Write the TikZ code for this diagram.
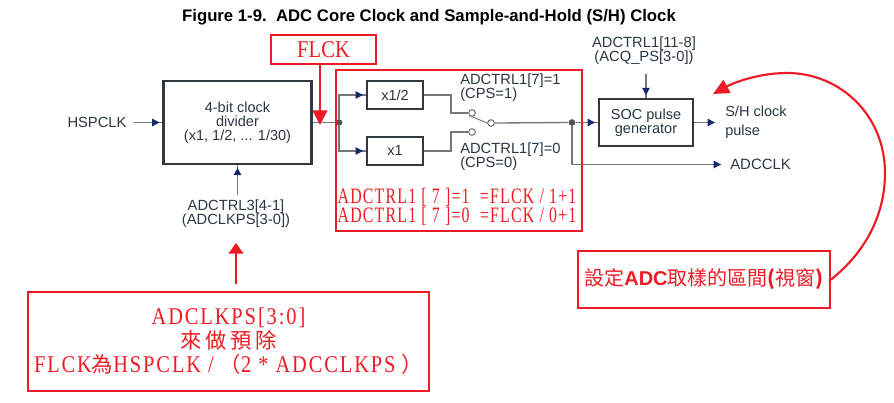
\documentclass[tikz,border=0pt]{standalone}
\usepackage{fontspec}
\setmainfont{Liberation Sans}
\newfontfamily\cjk{Noto Sans CJK TC}
\newfontfamily\rs[FakeStretch=.85,LetterSpace=8]{Liberation Serif}
\newfontfamily\rf[FakeStretch=.85,LetterSpace=1]{Liberation Serif}
\newfontfamily\rsb[FakeStretch=.72,LetterSpace=5.6]{Liberation Serif}
\usetikzlibrary{arrows.meta,decorations.markings}
\definecolor{inkc}{HTML}{2B3744}
\definecolor{edgec}{HTML}{33383F}
\definecolor{wirec}{HTML}{777777}
\definecolor{tipc}{HTML}{14286E}
\definecolor{redc}{HTML}{ED1C24}
\tikzset{
 lab/.style={inner sep=0pt,text=inkc,font=\fontsize{11.05}{10.5}\selectfont,align=center},
 blockbox/.style={draw=edgec,line width=1.7pt,fill=white,inner sep=0pt,text=inkc,font=\fontsize{10.9}{10.5}\selectfont,align=center},
 wire/.style={draw=wirec,line width=1pt},
 wirearrow/.style={wire,decoration={markings,mark=at position -#1 with {\fill[tipc] (-5.4pt,-2.9pt) -- (0,0) -- (-5.4pt,2.9pt) -- cycle;}},postaction={decorate}},
 wirearrow/.default=2.2pt,
 dotnode/.style={circle,fill=wirec!70!black,inner sep=0pt,minimum size=5pt},
 contact/.style={circle,draw=wirec!70!black,fill=white,line width=.6pt,inner sep=0pt,minimum size=5pt},
 redbox/.style={draw=redc,line width=1.6pt,inner sep=0pt,text=redc,align=center},
 redarrow/.style={draw=redc,line width=1.6pt,-{Triangle[length=#1,width=11pt,color=redc]}},
 redarrow/.default=8pt
}
\begin{document}
\begin{tikzpicture}[x=.75pt,y=-.75pt]
\useasboundingbox[fill=white] (0,0) rectangle (894,403);
\node[inner sep=0pt,font=\fontsize{12.55}{14}\bfseries\selectfont,text=black] (title) at (429,17) {Figure 1-9.\ \ ADC Core Clock and Sample-and-Hold (S/H) Clock};
% blocks
\node[blockbox,minimum width=111pt,minimum height=62pt] (div) at (237.5,122.5) {4-bit clock\\divider\\(x1, 1/2, ... 1/30)};
\node[blockbox,minimum width=42pt,minimum height=21pt] (x12) at (395,95) {x1/2};
\node[blockbox,minimum width=42pt,minimum height=21pt] (x1) at (395,151) {x1};
\node[blockbox,minimum width=70.5pt,minimum height=35pt] (soc) at (646,122.5) {SOC pulse\\generator};
% labels
\node[lab] (hsp) at (97,122.5) {HSPCLK};
\node[lab] (adc3) at (236,214) {ADCTRL3[4-1]\\(ADCLKPS[3-0])};
\node[lab,anchor=west,align=left] (cps1) at (460,88) {ADCTRL1[7]=1\\(CPS=1)};
\node[lab,anchor=west,align=left] (cps0) at (460,157) {ADCTRL1[7]=0\\(CPS=0)};
\node[lab] (acq) at (644,51) {ADCTRL1[11-8]\\(ACQ\_PS[3-0])};
\node[lab,anchor=west,align=left,font=\fontsize{10.9}{14.2}\selectfont] (sh) at (725,122.5) {S/H clock\\pulse};
\node[lab,anchor=west,font=\fontsize{11.2}{12}\selectfont] (adcclk) at (730,164.5) {ADCCLK};
% junctions and switch
\node[dotnode] (j1) at (339,122.5) {};
\node[dotnode] (j2) at (572,122.5) {};
\node[contact] (s1) at (472,113) {};
\node[contact] (s2) at (472,132) {};
\node[contact] (s3) at (491,123) {};
% wires
\draw[wirearrow] ([xshift=5.25pt]hsp.east) -- (div.west);
\draw[wirearrow] ([yshift=3.5pt]adc3.north -| div.south) -- (div.south);
\draw[wire] (div.east) -- (j1);
\draw[wirearrow] (j1) |- (x12.west);
\draw[wirearrow] (j1) |- (x1.west);
\draw[wire] (x12.east) -- ++(27,0) |- (s1.west);
\draw[wire] (x1.east) -- ++(27,0) |- (s2.west);
\draw[wire,line width=.7pt] (s1.south west) -- (s3.west);
\draw[wire] (s3.east) -- (j2);
\draw[wirearrow] (j2) -- (soc.west);
\draw[wirearrow=.1pt] (j2) |- ([xshift=-6.75pt]adcclk.west);
\draw[wirearrow=.1pt] (soc.east) -- ([xshift=-7.5pt]sh.west);
\draw[wirearrow] ([yshift=-7pt]acq.south -| soc.north) -- (soc.north);
% red annotations
\node[redbox,minimum width=78.5pt,minimum height=21.5pt,font=\rf\fontsize{18}{18}\selectfont] (flck) at (323.5,49.5) {FLCK};
\node[redbox,minimum width=184.5pt,minimum height=120.5pt] (core) at (459,150.5) {};
\node[inner sep=0pt,text=redc,align=center,font=\rsb\fontsize{16.5}{14.2}\selectfont] (eq) at (457,206.5) {ADCTRL1 [ 7 ]=1\ \ =FLCK / 1+1\\ADCTRL1 [ 7 ]=0\ \ =FLCK / 0+1};
\node[redbox,minimum width=300.5pt,minimum height=74pt,font=\rs\fontsize{18}{18}\selectfont] (note) at (228.5,341.5) {ADCLKPS[3:0]\\{\cjk\fontsize{16}{18}\selectfont 來\,做\,預\,除}\\FLCK{\cjk\fontsize{16}{18}\selectfont 為}HSPCLK /\hspace{4.5pt}{\cjk\fontsize{16}{18}\selectfont （}2 * ADCCLKPS\hspace{4.5pt}{\cjk\fontsize{16}{18}\selectfont ）}};
\node[redbox,minimum width=189pt,minimum height=42.5pt,font=\cjk\fontsize{15}{18}\selectfont] (win) at (704,279.5) {設定{\fontspec{Liberation Sans}\bfseries ADC}取樣的區間{\bfseries (}視窗{\bfseries )}};
\coordinate (flcktip) at (320,125);
\coordinate (adctip) at (236,243);
\coordinate (arc1) at (885,173);
\coordinate (arc2) at (787,73);
\coordinate (arctip) at (713,94);
\draw[redarrow=11pt] (flck.south -| flcktip) -- (flcktip);
\draw[redarrow] ([yshift=5pt]note.north -| adctip) -- (adctip);
\draw[redarrow=12pt] (win.east) .. controls (868,250) and (885,212) .. (arc1) .. controls (885,115) and (840,73) .. (arc2) .. controls (760,73) and (735,82) .. (arctip);
\end{tikzpicture}
\end{document}
